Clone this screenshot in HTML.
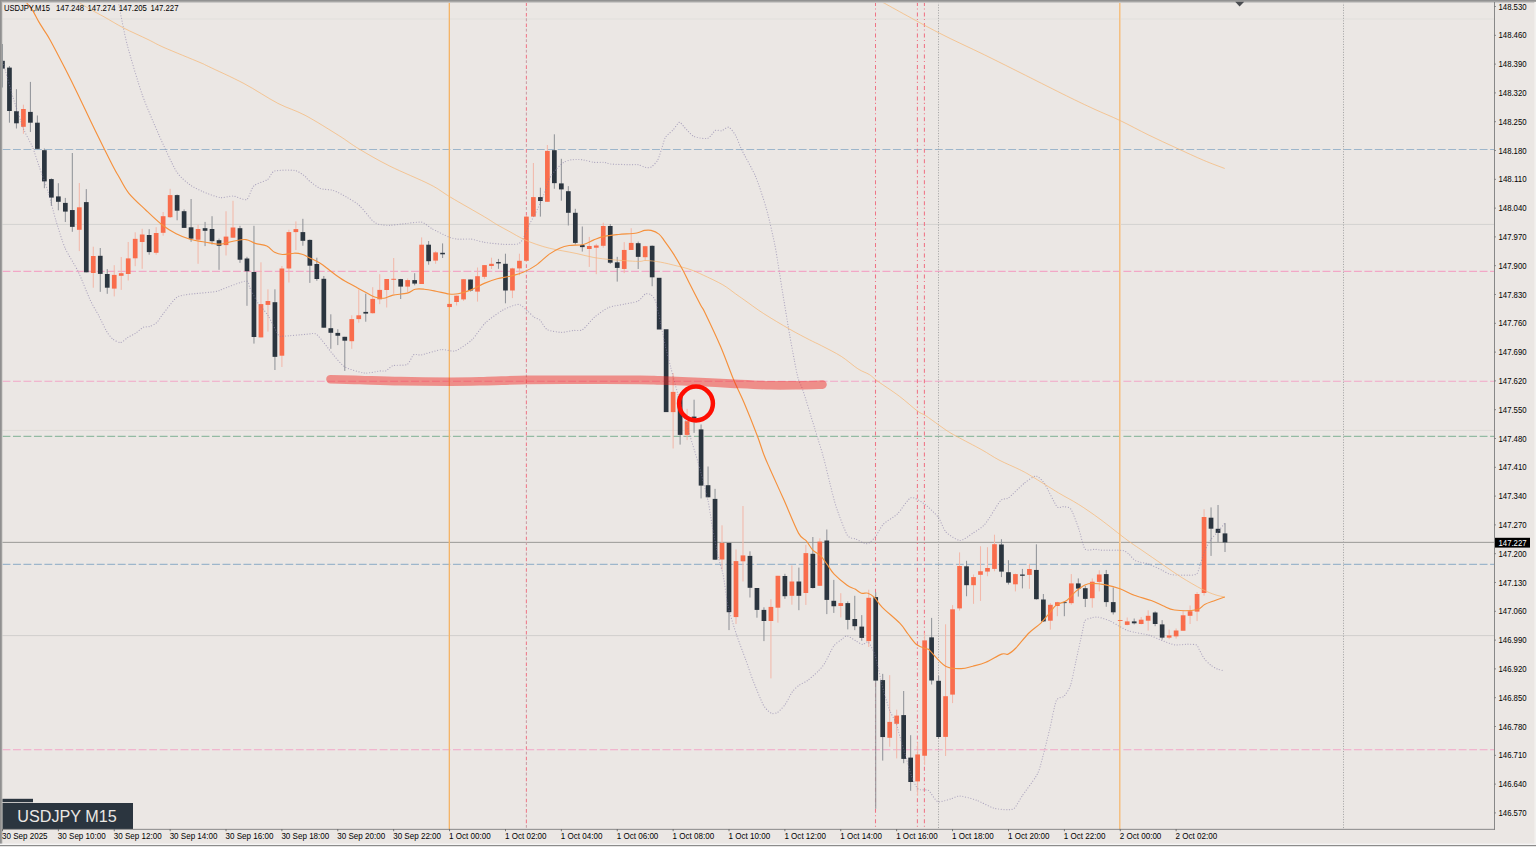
<!DOCTYPE html><html><head><meta charset="utf-8"><title>USDJPY M15</title>
<style>html,body{margin:0;padding:0;background:#ebe7e4;overflow:hidden}svg{display:block}text{font-family:"Liberation Sans",sans-serif}</style></head><body>
<svg width="1536" height="847" viewBox="0 0 1536 847">
<rect width="1536" height="847" fill="#ebe7e4"/>
<defs><clipPath id="cp"><rect x="2" y="2.6" width="1492.2" height="826.4"/></clipPath></defs>
<g clip-path="url(#cp)">
<rect x="2" y="18.50" width="1493" height="1" fill="#e1dfdb"/>
<rect x="2" y="223.90" width="1493" height="1" fill="#d3d2d0"/>
<rect x="2" y="429.90" width="1493" height="1" fill="#dedbd8"/>
<rect x="2" y="635.10" width="1493" height="1" fill="#d1cfcd"/>
<line x1="2.5" y1="149.50" x2="1494" y2="149.50" stroke="#9db6cb" stroke-width="1.10" stroke-dasharray="7.9 2.576"/>
<line x1="2.5" y1="564.35" x2="1494" y2="564.35" stroke="#9db6cb" stroke-width="1.10" stroke-dasharray="7.9 2.576"/>
<line x1="2.5" y1="436.40" x2="1494" y2="436.40" stroke="#93bba3" stroke-width="1.10" stroke-dasharray="7.9 2.576"/>
<line x1="2.5" y1="271.40" x2="1494" y2="271.40" stroke="#f2a7c6" stroke-width="1.10" stroke-dasharray="7.9 2.576"/>
<line x1="2.5" y1="381.30" x2="1494" y2="381.30" stroke="#f2a7c6" stroke-width="1.10" stroke-dasharray="7.9 2.576"/>
<line x1="2.5" y1="749.80" x2="1494" y2="749.80" stroke="#f2a7c6" stroke-width="1.10" stroke-dasharray="7.9 2.576"/>
<rect x="2" y="541.85" width="1493" height="1" fill="#9a9896"/>
<rect x="448" y="2" width="1" height="828" fill="#f4b66c" fill-opacity="0.35"/>
<rect x="449" y="2" width="1" height="828" fill="#f4b468"/>
<rect x="1119" y="2" width="1" height="828" fill="#f4c082"/>
<rect x="1120" y="2" width="1" height="828" fill="#f1d2b0"/>
<line x1="526.4" y1="2" x2="526.4" y2="829" stroke="#f07d8c" stroke-width="1.1" stroke-dasharray="3.6 6.876" stroke-dashoffset="-0.45"/>
<line x1="526.4" y1="2" x2="526.4" y2="829" stroke="#c9a3a8" stroke-width="1.1" stroke-dasharray="2.8 7.676" stroke-dashoffset="-5.85"/>
<line x1="875.50" y1="2" x2="875.50" y2="829" stroke="#ef7485" stroke-width="1.05" stroke-dasharray="4 2.4 1.1 2.976" stroke-dashoffset="-0.1"/>
<line x1="917.40" y1="2" x2="917.40" y2="829" stroke="#ef7485" stroke-width="1.05" stroke-dasharray="4 2.4 1.1 2.976" stroke-dashoffset="-0.1"/>
<line x1="924.40" y1="2" x2="924.40" y2="829" stroke="#ef7485" stroke-width="1.05" stroke-dasharray="4 2.4 1.1 2.976" stroke-dashoffset="-0.1"/>
<line x1="938.50" y1="2" x2="938.50" y2="829" stroke="#a6a6a6" stroke-width="1" stroke-dasharray="1.1 1.519"/>
<line x1="1343.50" y1="2" x2="1343.50" y2="829" stroke="#a6a6a6" stroke-width="1" stroke-dasharray="1.1 1.519"/>
<rect x="1.93" y="44.00" width="1.06" height="43.50" fill="#5a646e"/>
<rect x="0.11" y="60.80" width="4.7" height="7.80" fill="#2b353f"/>
<rect x="8.92" y="66.00" width="1.06" height="56.70" fill="#92959a"/>
<rect x="7.10" y="67.60" width="4.7" height="43.40" fill="#2b353f"/>
<rect x="15.91" y="89.20" width="1.06" height="39.30" fill="#92959a"/>
<rect x="14.09" y="111.20" width="4.7" height="12.10" fill="#2b353f"/>
<rect x="22.89" y="104.70" width="1.06" height="29.05" fill="#f2b9ab"/>
<rect x="21.07" y="109.00" width="4.7" height="17.80" fill="#f96d4c"/>
<rect x="29.88" y="81.90" width="1.06" height="50.10" fill="#92959a"/>
<rect x="28.06" y="111.90" width="4.7" height="10.80" fill="#2b353f"/>
<rect x="36.86" y="115.50" width="1.06" height="33.35" fill="#92959a"/>
<rect x="35.04" y="122.70" width="4.7" height="26.15" fill="#2b353f"/>
<rect x="43.85" y="148.50" width="1.06" height="39.70" fill="#92959a"/>
<rect x="42.03" y="150.20" width="4.7" height="31.20" fill="#2b353f"/>
<rect x="50.84" y="178.40" width="1.06" height="27.40" fill="#92959a"/>
<rect x="49.02" y="179.10" width="4.7" height="18.50" fill="#2b353f"/>
<rect x="57.82" y="183.20" width="1.06" height="27.10" fill="#92959a"/>
<rect x="56.00" y="196.40" width="4.7" height="5.40" fill="#2b353f"/>
<rect x="64.81" y="197.90" width="1.06" height="24.10" fill="#92959a"/>
<rect x="62.99" y="202.90" width="4.7" height="8.70" fill="#2b353f"/>
<rect x="71.79" y="153.00" width="1.06" height="78.80" fill="#92959a"/>
<rect x="69.97" y="210.05" width="4.7" height="16.80" fill="#2b353f"/>
<rect x="78.78" y="183.00" width="1.06" height="68.10" fill="#f2b9ab"/>
<rect x="76.96" y="207.30" width="4.7" height="22.50" fill="#f96d4c"/>
<rect x="85.77" y="189.10" width="1.06" height="83.20" fill="#92959a"/>
<rect x="83.95" y="202.10" width="4.7" height="70.20" fill="#2b353f"/>
<rect x="92.75" y="246.70" width="1.06" height="41.00" fill="#f2b9ab"/>
<rect x="90.93" y="256.00" width="4.7" height="17.00" fill="#f96d4c"/>
<rect x="99.74" y="248.00" width="1.06" height="43.85" fill="#92959a"/>
<rect x="97.92" y="255.80" width="4.7" height="18.10" fill="#2b353f"/>
<rect x="106.72" y="269.10" width="1.06" height="24.70" fill="#92959a"/>
<rect x="104.90" y="274.00" width="4.7" height="13.70" fill="#2b353f"/>
<rect x="113.71" y="265.20" width="1.06" height="31.20" fill="#f2b9ab"/>
<rect x="111.89" y="274.90" width="4.7" height="13.70" fill="#f96d4c"/>
<rect x="120.70" y="257.00" width="1.06" height="32.90" fill="#f2b9ab"/>
<rect x="118.88" y="273.20" width="4.7" height="2.60" fill="#f96d4c"/>
<rect x="127.68" y="242.00" width="1.06" height="38.50" fill="#f2b9ab"/>
<rect x="125.86" y="258.40" width="4.7" height="15.60" fill="#f96d4c"/>
<rect x="134.67" y="232.30" width="1.06" height="33.90" fill="#f2b9ab"/>
<rect x="132.85" y="238.85" width="4.7" height="19.45" fill="#f96d4c"/>
<rect x="141.65" y="228.80" width="1.06" height="40.00" fill="#f2b9ab"/>
<rect x="139.83" y="234.50" width="4.7" height="7.50" fill="#f96d4c"/>
<rect x="148.64" y="229.20" width="1.06" height="25.50" fill="#92959a"/>
<rect x="146.82" y="235.00" width="4.7" height="17.10" fill="#2b353f"/>
<rect x="155.63" y="227.20" width="1.06" height="27.50" fill="#f2b9ab"/>
<rect x="153.81" y="233.00" width="4.7" height="19.80" fill="#f96d4c"/>
<rect x="162.61" y="212.00" width="1.06" height="23.70" fill="#f2b9ab"/>
<rect x="160.79" y="216.20" width="4.7" height="16.60" fill="#f96d4c"/>
<rect x="169.60" y="188.80" width="1.06" height="29.20" fill="#f2b9ab"/>
<rect x="167.78" y="195.10" width="4.7" height="22.10" fill="#f96d4c"/>
<rect x="176.58" y="194.50" width="1.06" height="25.80" fill="#92959a"/>
<rect x="174.76" y="195.10" width="4.7" height="15.60" fill="#2b353f"/>
<rect x="183.57" y="209.40" width="1.06" height="18.60" fill="#92959a"/>
<rect x="181.75" y="211.20" width="4.7" height="16.70" fill="#2b353f"/>
<rect x="190.56" y="199.00" width="1.06" height="42.80" fill="#92959a"/>
<rect x="188.74" y="227.30" width="4.7" height="11.30" fill="#2b353f"/>
<rect x="197.54" y="224.80" width="1.06" height="39.00" fill="#f2b9ab"/>
<rect x="195.72" y="229.00" width="4.7" height="10.70" fill="#f96d4c"/>
<rect x="204.53" y="221.90" width="1.06" height="24.20" fill="#92959a"/>
<rect x="202.71" y="228.20" width="4.7" height="2.60" fill="#2b353f"/>
<rect x="211.51" y="216.20" width="1.06" height="28.30" fill="#92959a"/>
<rect x="209.69" y="229.00" width="4.7" height="12.20" fill="#2b353f"/>
<rect x="218.50" y="238.60" width="1.06" height="31.20" fill="#92959a"/>
<rect x="216.68" y="240.20" width="4.7" height="5.55" fill="#2b353f"/>
<rect x="225.49" y="211.25" width="1.06" height="44.25" fill="#f2b9ab"/>
<rect x="223.67" y="236.60" width="4.7" height="8.50" fill="#f96d4c"/>
<rect x="232.47" y="200.80" width="1.06" height="37.20" fill="#f2b9ab"/>
<rect x="230.65" y="227.50" width="4.7" height="10.20" fill="#f96d4c"/>
<rect x="239.46" y="225.80" width="1.06" height="37.10" fill="#92959a"/>
<rect x="237.64" y="228.20" width="4.7" height="31.50" fill="#2b353f"/>
<rect x="246.44" y="256.80" width="1.06" height="49.00" fill="#92959a"/>
<rect x="244.62" y="258.50" width="4.7" height="12.70" fill="#2b353f"/>
<rect x="253.43" y="225.80" width="1.06" height="117.80" fill="#92959a"/>
<rect x="251.61" y="272.00" width="4.7" height="65.00" fill="#2b353f"/>
<rect x="260.42" y="262.30" width="1.06" height="75.10" fill="#f2b9ab"/>
<rect x="258.60" y="304.10" width="4.7" height="33.30" fill="#f96d4c"/>
<rect x="267.40" y="289.30" width="1.06" height="42.30" fill="#f2b9ab"/>
<rect x="265.58" y="301.00" width="4.7" height="3.90" fill="#f96d4c"/>
<rect x="274.39" y="289.30" width="1.06" height="80.70" fill="#92959a"/>
<rect x="272.57" y="302.20" width="4.7" height="54.65" fill="#2b353f"/>
<rect x="281.37" y="266.00" width="1.06" height="101.00" fill="#f2b9ab"/>
<rect x="279.55" y="268.50" width="4.7" height="87.20" fill="#f96d4c"/>
<rect x="288.36" y="229.70" width="1.06" height="52.80" fill="#f2b9ab"/>
<rect x="286.54" y="232.10" width="4.7" height="36.40" fill="#f96d4c"/>
<rect x="295.35" y="221.40" width="1.06" height="28.65" fill="#f2b9ab"/>
<rect x="293.53" y="229.10" width="4.7" height="3.00" fill="#f96d4c"/>
<rect x="302.33" y="218.80" width="1.06" height="26.95" fill="#92959a"/>
<rect x="300.51" y="232.10" width="4.7" height="8.70" fill="#2b353f"/>
<rect x="309.32" y="239.50" width="1.06" height="43.40" fill="#92959a"/>
<rect x="307.50" y="239.90" width="4.7" height="25.80" fill="#2b353f"/>
<rect x="316.30" y="257.70" width="1.06" height="23.10" fill="#92959a"/>
<rect x="314.48" y="264.00" width="4.7" height="15.00" fill="#2b353f"/>
<rect x="323.29" y="276.00" width="1.06" height="51.70" fill="#92959a"/>
<rect x="321.47" y="278.80" width="4.7" height="48.90" fill="#2b353f"/>
<rect x="330.28" y="314.30" width="1.06" height="34.50" fill="#92959a"/>
<rect x="328.46" y="328.20" width="4.7" height="4.60" fill="#2b353f"/>
<rect x="337.26" y="329.20" width="1.06" height="15.90" fill="#92959a"/>
<rect x="335.44" y="332.90" width="4.7" height="2.85" fill="#2b353f"/>
<rect x="344.25" y="336.80" width="1.06" height="34.10" fill="#92959a"/>
<rect x="342.43" y="336.80" width="4.7" height="3.90" fill="#2b353f"/>
<rect x="351.23" y="315.30" width="1.06" height="33.50" fill="#f2b9ab"/>
<rect x="349.41" y="319.10" width="4.7" height="22.10" fill="#f96d4c"/>
<rect x="358.22" y="289.50" width="1.06" height="33.20" fill="#f2b9ab"/>
<rect x="356.40" y="315.30" width="4.7" height="3.80" fill="#f96d4c"/>
<rect x="365.21" y="293.70" width="1.06" height="28.00" fill="#92959a"/>
<rect x="363.39" y="311.90" width="4.7" height="1.70" fill="#2b353f"/>
<rect x="372.19" y="287.20" width="1.06" height="26.40" fill="#f2b9ab"/>
<rect x="370.37" y="298.90" width="4.7" height="14.30" fill="#f96d4c"/>
<rect x="379.18" y="274.20" width="1.06" height="29.90" fill="#f2b9ab"/>
<rect x="377.36" y="289.90" width="4.7" height="9.40" fill="#f96d4c"/>
<rect x="386.16" y="279.00" width="1.06" height="28.50" fill="#f2b9ab"/>
<rect x="384.34" y="279.00" width="4.7" height="11.00" fill="#f96d4c"/>
<rect x="393.15" y="258.00" width="1.06" height="35.80" fill="#f2b9ab"/>
<rect x="391.33" y="278.80" width="4.7" height="1.00" fill="#f96d4c"/>
<rect x="400.14" y="278.90" width="1.06" height="20.10" fill="#92959a"/>
<rect x="398.32" y="279.10" width="4.7" height="7.50" fill="#2b353f"/>
<rect x="407.12" y="278.50" width="1.06" height="13.60" fill="#f2b9ab"/>
<rect x="405.30" y="280.10" width="4.7" height="6.50" fill="#f96d4c"/>
<rect x="414.11" y="273.20" width="1.06" height="12.10" fill="#92959a"/>
<rect x="412.29" y="280.10" width="4.7" height="3.50" fill="#2b353f"/>
<rect x="421.09" y="237.40" width="1.06" height="46.60" fill="#f2b9ab"/>
<rect x="419.27" y="244.70" width="4.7" height="39.30" fill="#f96d4c"/>
<rect x="428.08" y="241.00" width="1.06" height="23.70" fill="#92959a"/>
<rect x="426.26" y="244.70" width="4.7" height="16.50" fill="#2b353f"/>
<rect x="435.07" y="251.20" width="1.06" height="12.60" fill="#f2b9ab"/>
<rect x="433.25" y="252.40" width="4.7" height="8.20" fill="#f96d4c"/>
<rect x="442.05" y="243.40" width="1.06" height="14.60" fill="#92959a"/>
<rect x="440.23" y="252.80" width="4.7" height="1.50" fill="#2b353f"/>
<rect x="447.22" y="303.90" width="4.7" height="3.15" fill="#f96d4c"/>
<rect x="456.02" y="295.70" width="1.06" height="9.80" fill="#f2b9ab"/>
<rect x="454.20" y="295.70" width="4.7" height="6.30" fill="#f96d4c"/>
<rect x="463.01" y="279.20" width="1.06" height="21.70" fill="#f2b9ab"/>
<rect x="461.19" y="279.20" width="4.7" height="20.20" fill="#f96d4c"/>
<rect x="470.00" y="279.50" width="1.06" height="12.00" fill="#92959a"/>
<rect x="468.18" y="279.50" width="4.7" height="11.00" fill="#2b353f"/>
<rect x="476.98" y="267.50" width="1.06" height="34.10" fill="#f2b9ab"/>
<rect x="475.16" y="276.20" width="4.7" height="15.40" fill="#f96d4c"/>
<rect x="483.97" y="265.10" width="1.06" height="13.70" fill="#f2b9ab"/>
<rect x="482.15" y="265.10" width="4.7" height="11.75" fill="#f96d4c"/>
<rect x="490.95" y="257.70" width="1.06" height="11.30" fill="#f2b9ab"/>
<rect x="489.13" y="263.80" width="4.7" height="2.20" fill="#f96d4c"/>
<rect x="497.94" y="258.90" width="1.06" height="9.90" fill="#92959a"/>
<rect x="496.12" y="262.10" width="4.7" height="1.30" fill="#2b353f"/>
<rect x="504.93" y="253.70" width="1.06" height="49.60" fill="#92959a"/>
<rect x="503.11" y="263.80" width="4.7" height="26.70" fill="#2b353f"/>
<rect x="511.91" y="267.70" width="1.06" height="30.40" fill="#f2b9ab"/>
<rect x="510.09" y="268.40" width="4.7" height="22.10" fill="#f96d4c"/>
<rect x="518.90" y="253.70" width="1.06" height="21.50" fill="#f2b9ab"/>
<rect x="517.08" y="260.80" width="4.7" height="7.60" fill="#f96d4c"/>
<rect x="525.88" y="216.00" width="1.06" height="46.00" fill="#f2b9ab"/>
<rect x="524.06" y="216.60" width="4.7" height="44.20" fill="#f96d4c"/>
<rect x="532.87" y="163.00" width="1.06" height="53.60" fill="#f2b9ab"/>
<rect x="531.05" y="197.10" width="4.7" height="19.50" fill="#f96d4c"/>
<rect x="539.86" y="187.70" width="1.06" height="28.90" fill="#92959a"/>
<rect x="538.04" y="197.10" width="4.7" height="3.90" fill="#2b353f"/>
<rect x="546.84" y="145.00" width="1.06" height="56.80" fill="#f2b9ab"/>
<rect x="545.02" y="150.90" width="4.7" height="50.90" fill="#f96d4c"/>
<rect x="553.83" y="134.30" width="1.06" height="54.45" fill="#92959a"/>
<rect x="552.01" y="150.20" width="4.7" height="32.95" fill="#2b353f"/>
<rect x="560.81" y="158.80" width="1.06" height="41.90" fill="#92959a"/>
<rect x="558.99" y="183.40" width="4.7" height="6.00" fill="#2b353f"/>
<rect x="567.80" y="186.15" width="1.06" height="39.35" fill="#92959a"/>
<rect x="565.98" y="191.20" width="4.7" height="21.60" fill="#2b353f"/>
<rect x="574.79" y="208.80" width="1.06" height="35.70" fill="#92959a"/>
<rect x="572.97" y="212.80" width="4.7" height="30.10" fill="#2b353f"/>
<rect x="581.77" y="226.50" width="1.06" height="25.10" fill="#92959a"/>
<rect x="579.95" y="245.10" width="4.7" height="2.00" fill="#2b353f"/>
<rect x="588.76" y="236.90" width="1.06" height="30.00" fill="#f2b9ab"/>
<rect x="586.94" y="246.00" width="4.7" height="3.00" fill="#f96d4c"/>
<rect x="595.74" y="243.80" width="1.06" height="30.40" fill="#f2b9ab"/>
<rect x="593.92" y="245.50" width="4.7" height="2.20" fill="#f96d4c"/>
<rect x="602.73" y="222.70" width="1.06" height="25.00" fill="#f2b9ab"/>
<rect x="600.91" y="226.00" width="4.7" height="19.80" fill="#f96d4c"/>
<rect x="609.72" y="224.00" width="1.06" height="40.00" fill="#92959a"/>
<rect x="607.90" y="226.00" width="4.7" height="36.70" fill="#2b353f"/>
<rect x="616.70" y="256.85" width="1.06" height="24.75" fill="#92959a"/>
<rect x="614.88" y="262.30" width="4.7" height="5.60" fill="#2b353f"/>
<rect x="623.69" y="242.10" width="1.06" height="31.00" fill="#f2b9ab"/>
<rect x="621.87" y="249.95" width="4.7" height="19.00" fill="#f96d4c"/>
<rect x="630.67" y="228.20" width="1.06" height="21.75" fill="#f2b9ab"/>
<rect x="628.85" y="242.90" width="4.7" height="7.05" fill="#f96d4c"/>
<rect x="637.66" y="241.60" width="1.06" height="27.40" fill="#92959a"/>
<rect x="635.84" y="243.20" width="4.7" height="13.65" fill="#2b353f"/>
<rect x="644.65" y="245.80" width="1.06" height="14.95" fill="#f2b9ab"/>
<rect x="642.83" y="246.20" width="4.7" height="11.00" fill="#f96d4c"/>
<rect x="651.63" y="245.50" width="1.06" height="40.70" fill="#92959a"/>
<rect x="649.81" y="245.80" width="4.7" height="31.50" fill="#2b353f"/>
<rect x="656.80" y="277.80" width="4.7" height="51.70" fill="#2b353f"/>
<rect x="663.78" y="329.25" width="4.7" height="82.85" fill="#2b353f"/>
<rect x="672.59" y="373.00" width="1.06" height="75.50" fill="#f2b9ab"/>
<rect x="670.77" y="391.90" width="4.7" height="20.20" fill="#f96d4c"/>
<rect x="679.58" y="394.50" width="1.06" height="50.10" fill="#92959a"/>
<rect x="677.76" y="396.50" width="4.7" height="38.40" fill="#2b353f"/>
<rect x="686.56" y="408.80" width="1.06" height="31.30" fill="#f2b9ab"/>
<rect x="684.74" y="421.20" width="4.7" height="13.70" fill="#f96d4c"/>
<rect x="693.55" y="399.70" width="1.06" height="33.20" fill="#92959a"/>
<rect x="691.73" y="416.60" width="4.7" height="2.00" fill="#2b353f"/>
<rect x="700.53" y="424.45" width="1.06" height="73.95" fill="#92959a"/>
<rect x="698.71" y="429.40" width="4.7" height="56.20" fill="#2b353f"/>
<rect x="707.52" y="466.50" width="1.06" height="30.80" fill="#92959a"/>
<rect x="705.70" y="485.20" width="4.7" height="12.10" fill="#2b353f"/>
<rect x="714.51" y="488.85" width="1.06" height="70.85" fill="#92959a"/>
<rect x="712.69" y="498.90" width="4.7" height="60.80" fill="#2b353f"/>
<rect x="721.49" y="525.30" width="1.06" height="44.20" fill="#f2b9ab"/>
<rect x="719.67" y="542.90" width="4.7" height="16.60" fill="#f96d4c"/>
<rect x="728.48" y="542.90" width="1.06" height="87.20" fill="#92959a"/>
<rect x="726.66" y="542.90" width="4.7" height="69.30" fill="#2b353f"/>
<rect x="735.46" y="549.40" width="1.06" height="74.60" fill="#f2b9ab"/>
<rect x="733.64" y="561.10" width="4.7" height="55.95" fill="#f96d4c"/>
<rect x="742.45" y="506.00" width="1.06" height="75.50" fill="#f2b9ab"/>
<rect x="740.63" y="555.40" width="4.7" height="5.90" fill="#f96d4c"/>
<rect x="749.44" y="551.30" width="1.06" height="46.20" fill="#92959a"/>
<rect x="747.62" y="555.90" width="4.7" height="31.90" fill="#2b353f"/>
<rect x="756.42" y="588.00" width="1.06" height="29.70" fill="#92959a"/>
<rect x="754.60" y="588.00" width="4.7" height="21.90" fill="#2b353f"/>
<rect x="763.41" y="607.30" width="1.06" height="33.80" fill="#92959a"/>
<rect x="761.59" y="609.90" width="4.7" height="11.10" fill="#2b353f"/>
<rect x="770.39" y="599.20" width="1.06" height="79.20" fill="#f2b9ab"/>
<rect x="768.57" y="606.90" width="4.7" height="14.10" fill="#f96d4c"/>
<rect x="777.38" y="575.80" width="1.06" height="46.85" fill="#f2b9ab"/>
<rect x="775.56" y="575.80" width="4.7" height="31.90" fill="#f96d4c"/>
<rect x="784.37" y="573.80" width="1.06" height="25.00" fill="#92959a"/>
<rect x="782.55" y="576.00" width="4.7" height="20.20" fill="#2b353f"/>
<rect x="791.35" y="565.40" width="1.06" height="39.30" fill="#f2b9ab"/>
<rect x="789.53" y="581.50" width="4.7" height="14.30" fill="#f96d4c"/>
<rect x="798.34" y="567.60" width="1.06" height="42.60" fill="#92959a"/>
<rect x="796.52" y="581.50" width="4.7" height="14.30" fill="#2b353f"/>
<rect x="805.32" y="544.80" width="1.06" height="60.15" fill="#f2b9ab"/>
<rect x="803.50" y="553.10" width="4.7" height="39.90" fill="#f96d4c"/>
<rect x="812.31" y="537.00" width="1.06" height="51.50" fill="#92959a"/>
<rect x="810.49" y="553.80" width="4.7" height="34.20" fill="#2b353f"/>
<rect x="819.30" y="538.30" width="1.06" height="47.70" fill="#f2b9ab"/>
<rect x="817.48" y="541.60" width="4.7" height="44.20" fill="#f96d4c"/>
<rect x="826.28" y="529.50" width="1.06" height="84.60" fill="#92959a"/>
<rect x="824.46" y="540.50" width="4.7" height="59.40" fill="#2b353f"/>
<rect x="833.27" y="579.90" width="1.06" height="33.00" fill="#92959a"/>
<rect x="831.45" y="600.80" width="4.7" height="5.45" fill="#2b353f"/>
<rect x="840.25" y="593.20" width="1.06" height="24.20" fill="#f2b9ab"/>
<rect x="838.43" y="603.10" width="4.7" height="2.90" fill="#f96d4c"/>
<rect x="847.24" y="601.40" width="1.06" height="28.00" fill="#92959a"/>
<rect x="845.42" y="603.10" width="4.7" height="16.80" fill="#2b353f"/>
<rect x="854.23" y="595.80" width="1.06" height="34.30" fill="#92959a"/>
<rect x="852.41" y="619.00" width="4.7" height="7.20" fill="#2b353f"/>
<rect x="861.21" y="615.10" width="1.06" height="25.65" fill="#92959a"/>
<rect x="859.39" y="626.60" width="4.7" height="11.30" fill="#2b353f"/>
<rect x="868.20" y="589.70" width="1.06" height="57.30" fill="#f2b9ab"/>
<rect x="866.38" y="597.80" width="4.7" height="43.30" fill="#f96d4c"/>
<rect x="875.18" y="592.30" width="1.06" height="216.45" fill="#92959a"/>
<rect x="873.36" y="597.10" width="4.7" height="83.50" fill="#2b353f"/>
<rect x="882.17" y="673.85" width="1.06" height="86.75" fill="#92959a"/>
<rect x="880.35" y="680.10" width="4.7" height="56.95" fill="#2b353f"/>
<rect x="889.16" y="675.15" width="1.06" height="71.55" fill="#f2b9ab"/>
<rect x="887.34" y="721.90" width="4.7" height="15.90" fill="#f96d4c"/>
<rect x="896.14" y="709.65" width="1.06" height="48.75" fill="#f2b9ab"/>
<rect x="894.32" y="715.60" width="4.7" height="8.20" fill="#f96d4c"/>
<rect x="903.13" y="691.00" width="1.06" height="72.20" fill="#92959a"/>
<rect x="901.31" y="715.10" width="4.7" height="43.80" fill="#2b353f"/>
<rect x="910.11" y="735.20" width="1.06" height="55.60" fill="#92959a"/>
<rect x="908.29" y="757.60" width="4.7" height="24.40" fill="#2b353f"/>
<rect x="917.10" y="742.30" width="1.06" height="53.40" fill="#f2b9ab"/>
<rect x="915.28" y="754.45" width="4.7" height="26.95" fill="#f96d4c"/>
<rect x="924.09" y="633.00" width="1.06" height="132.10" fill="#f2b9ab"/>
<rect x="922.27" y="640.40" width="4.7" height="115.35" fill="#f96d4c"/>
<rect x="931.07" y="617.90" width="1.06" height="66.60" fill="#92959a"/>
<rect x="929.25" y="637.35" width="4.7" height="43.15" fill="#2b353f"/>
<rect x="938.06" y="676.00" width="1.06" height="62.50" fill="#92959a"/>
<rect x="936.24" y="680.80" width="4.7" height="56.20" fill="#2b353f"/>
<rect x="945.04" y="624.30" width="1.06" height="131.70" fill="#f2b9ab"/>
<rect x="943.22" y="696.20" width="4.7" height="40.70" fill="#f96d4c"/>
<rect x="952.03" y="605.10" width="1.06" height="98.00" fill="#f2b9ab"/>
<rect x="950.21" y="609.30" width="4.7" height="85.30" fill="#f96d4c"/>
<rect x="959.02" y="552.40" width="1.06" height="58.20" fill="#f2b9ab"/>
<rect x="957.20" y="566.00" width="4.7" height="42.40" fill="#f96d4c"/>
<rect x="966.00" y="560.80" width="1.06" height="35.45" fill="#92959a"/>
<rect x="964.18" y="566.30" width="4.7" height="18.90" fill="#2b353f"/>
<rect x="972.99" y="574.50" width="1.06" height="29.30" fill="#f2b9ab"/>
<rect x="971.17" y="577.10" width="4.7" height="8.10" fill="#f96d4c"/>
<rect x="979.97" y="546.25" width="1.06" height="54.65" fill="#f2b9ab"/>
<rect x="978.15" y="571.25" width="4.7" height="3.55" fill="#f96d4c"/>
<rect x="986.96" y="547.20" width="1.06" height="29.00" fill="#f2b9ab"/>
<rect x="985.14" y="568.00" width="4.7" height="3.60" fill="#f96d4c"/>
<rect x="993.95" y="534.70" width="1.06" height="36.55" fill="#f2b9ab"/>
<rect x="992.13" y="544.20" width="4.7" height="24.70" fill="#f96d4c"/>
<rect x="1000.93" y="539.20" width="1.06" height="37.90" fill="#92959a"/>
<rect x="999.11" y="544.50" width="4.7" height="27.10" fill="#2b353f"/>
<rect x="1007.92" y="560.20" width="1.06" height="24.30" fill="#92959a"/>
<rect x="1006.10" y="572.20" width="4.7" height="10.50" fill="#2b353f"/>
<rect x="1014.90" y="573.60" width="1.06" height="17.80" fill="#f2b9ab"/>
<rect x="1013.08" y="574.10" width="4.7" height="10.20" fill="#f96d4c"/>
<rect x="1021.89" y="568.90" width="1.06" height="19.50" fill="#92959a"/>
<rect x="1020.07" y="574.50" width="4.7" height="1.30" fill="#2b353f"/>
<rect x="1028.88" y="564.10" width="1.06" height="24.70" fill="#f2b9ab"/>
<rect x="1027.06" y="569.00" width="4.7" height="5.90" fill="#f96d4c"/>
<rect x="1035.86" y="544.30" width="1.06" height="55.30" fill="#92959a"/>
<rect x="1034.04" y="569.95" width="4.7" height="29.25" fill="#2b353f"/>
<rect x="1042.85" y="594.00" width="1.06" height="28.00" fill="#92959a"/>
<rect x="1041.03" y="599.50" width="4.7" height="21.90" fill="#2b353f"/>
<rect x="1049.83" y="603.15" width="1.06" height="26.45" fill="#f2b9ab"/>
<rect x="1048.01" y="604.80" width="4.7" height="15.90" fill="#f96d4c"/>
<rect x="1056.82" y="601.80" width="1.06" height="14.40" fill="#f2b9ab"/>
<rect x="1055.00" y="602.20" width="4.7" height="3.80" fill="#f96d4c"/>
<rect x="1063.81" y="601.20" width="1.06" height="15.00" fill="#92959a"/>
<rect x="1061.99" y="602.20" width="4.7" height="0.90" fill="#2b353f"/>
<rect x="1070.79" y="574.10" width="1.06" height="30.60" fill="#f2b9ab"/>
<rect x="1068.97" y="583.40" width="4.7" height="19.75" fill="#f96d4c"/>
<rect x="1077.78" y="578.40" width="1.06" height="18.20" fill="#92959a"/>
<rect x="1075.96" y="583.40" width="4.7" height="5.20" fill="#2b353f"/>
<rect x="1084.76" y="585.80" width="1.06" height="21.25" fill="#92959a"/>
<rect x="1082.94" y="588.20" width="4.7" height="10.65" fill="#2b353f"/>
<rect x="1091.75" y="578.40" width="1.06" height="29.30" fill="#f2b9ab"/>
<rect x="1089.93" y="581.70" width="4.7" height="16.50" fill="#f96d4c"/>
<rect x="1098.74" y="570.20" width="1.06" height="21.20" fill="#f2b9ab"/>
<rect x="1096.92" y="574.50" width="4.7" height="7.40" fill="#f96d4c"/>
<rect x="1105.72" y="569.95" width="1.06" height="36.85" fill="#92959a"/>
<rect x="1103.90" y="574.10" width="4.7" height="28.00" fill="#2b353f"/>
<rect x="1112.71" y="587.50" width="1.06" height="27.00" fill="#92959a"/>
<rect x="1110.89" y="602.10" width="4.7" height="10.20" fill="#2b353f"/>
<rect x="1117.87" y="620.10" width="4.7" height="0.90" fill="#f96d4c"/>
<rect x="1126.68" y="617.50" width="1.06" height="7.80" fill="#f2b9ab"/>
<rect x="1124.86" y="621.40" width="4.7" height="3.50" fill="#f96d4c"/>
<rect x="1133.67" y="618.50" width="1.06" height="5.90" fill="#92959a"/>
<rect x="1131.85" y="621.40" width="4.7" height="1.90" fill="#2b353f"/>
<rect x="1140.65" y="617.10" width="1.06" height="7.30" fill="#f2b9ab"/>
<rect x="1138.83" y="619.70" width="4.7" height="4.30" fill="#f96d4c"/>
<rect x="1147.64" y="610.30" width="1.06" height="20.20" fill="#f2b9ab"/>
<rect x="1145.82" y="615.80" width="4.7" height="4.90" fill="#f96d4c"/>
<rect x="1154.62" y="611.35" width="1.06" height="14.85" fill="#92959a"/>
<rect x="1152.80" y="612.50" width="4.7" height="11.50" fill="#2b353f"/>
<rect x="1161.61" y="620.10" width="1.06" height="19.50" fill="#92959a"/>
<rect x="1159.79" y="624.40" width="4.7" height="13.25" fill="#2b353f"/>
<rect x="1168.60" y="629.60" width="1.06" height="9.60" fill="#f2b9ab"/>
<rect x="1166.78" y="635.40" width="4.7" height="2.25" fill="#f96d4c"/>
<rect x="1175.58" y="628.50" width="1.06" height="10.10" fill="#f2b9ab"/>
<rect x="1173.76" y="630.50" width="4.7" height="5.85" fill="#f96d4c"/>
<rect x="1182.57" y="611.00" width="1.06" height="19.75" fill="#f2b9ab"/>
<rect x="1180.75" y="615.30" width="4.7" height="15.45" fill="#f96d4c"/>
<rect x="1189.55" y="605.50" width="1.06" height="18.50" fill="#f2b9ab"/>
<rect x="1187.73" y="611.20" width="4.7" height="4.60" fill="#f96d4c"/>
<rect x="1196.54" y="592.10" width="1.06" height="29.00" fill="#f2b9ab"/>
<rect x="1194.72" y="594.00" width="4.7" height="17.60" fill="#f96d4c"/>
<rect x="1203.53" y="509.20" width="1.06" height="86.40" fill="#f2b9ab"/>
<rect x="1201.71" y="517.00" width="4.7" height="76.00" fill="#f96d4c"/>
<rect x="1210.51" y="507.40" width="1.06" height="48.50" fill="#92959a"/>
<rect x="1208.69" y="517.70" width="4.7" height="11.00" fill="#2b353f"/>
<rect x="1217.50" y="505.00" width="1.06" height="37.20" fill="#92959a"/>
<rect x="1215.68" y="528.80" width="4.7" height="4.10" fill="#2b353f"/>
<rect x="1224.48" y="523.10" width="1.06" height="28.90" fill="#92959a"/>
<rect x="1222.66" y="533.40" width="4.7" height="9.00" fill="#2b353f"/>
<path d="M118.00 1.00 C118.07 1.28 117.55 -1.62 118.60 3.40 C119.65 8.42 124.23 33.33 127.00 44.00 C129.77 54.67 138.54 84.17 142.30 94.85 C146.06 105.52 155.25 126.60 159.20 135.50 C163.15 144.40 172.64 165.37 176.20 171.10 C179.76 176.83 186.57 182.20 189.70 184.60 C192.83 187.00 199.47 190.18 203.00 191.70 C206.53 193.22 216.50 197.10 220.00 197.60 C223.50 198.10 229.90 195.78 233.00 196.00 C236.10 196.22 244.17 200.68 246.60 199.50 C249.03 198.32 251.35 188.23 253.80 185.90 C256.25 183.57 265.20 181.23 267.60 179.50 C270.00 177.77 271.24 172.16 274.40 171.10 C277.56 170.04 291.14 169.81 294.70 170.40 C298.26 171.00 303.22 175.00 304.90 176.20 C306.58 177.40 307.31 179.22 309.10 180.65 C310.89 182.09 317.39 187.36 320.20 188.50 C323.01 189.64 330.16 189.42 333.20 190.40 C336.24 191.38 343.20 195.15 346.25 196.90 C349.30 198.65 356.26 202.66 359.30 205.40 C362.34 208.14 370.03 218.19 372.30 220.40 C374.57 222.61 376.74 223.73 378.80 224.30 C380.87 224.87 386.83 225.39 390.00 225.30 C393.17 225.21 402.30 223.86 406.00 223.50 C409.70 223.14 418.67 221.59 421.70 222.20 C424.73 222.81 428.81 226.96 432.00 228.70 C435.19 230.44 445.95 235.89 449.00 237.10 C452.05 238.31 455.52 238.87 458.10 239.10 C460.68 239.33 468.06 238.73 471.10 239.10 C474.15 239.47 480.40 241.69 484.20 242.30 C488.00 242.91 499.76 244.11 503.70 244.30 C507.64 244.49 515.73 244.59 518.00 243.90 C520.27 243.21 521.86 240.70 523.20 238.40 C524.54 236.10 528.10 227.08 529.50 224.20 C530.90 221.32 533.62 216.95 535.20 213.75 C536.78 210.55 541.33 200.90 543.00 196.80 C544.67 192.70 547.98 181.78 549.50 178.60 C551.02 175.41 554.33 171.40 556.00 169.50 C557.67 167.60 561.98 163.44 563.80 162.30 C565.62 161.16 569.48 160.00 571.60 159.70 C573.72 159.40 579.42 159.40 582.00 159.70 C584.58 160.00 591.16 162.00 593.75 162.30 C596.34 162.60 602.22 162.10 604.20 162.30 C606.18 162.50 607.67 163.72 610.70 164.00 C613.73 164.28 627.02 164.62 630.20 164.70 C633.38 164.78 636.18 164.37 638.00 164.70 C639.82 165.03 644.28 167.22 645.80 167.50 C647.32 167.78 649.63 167.93 651.00 167.10 C652.37 166.27 656.32 162.48 657.55 160.40 C658.77 158.32 660.58 151.98 661.50 149.30 C662.42 146.62 664.03 139.68 665.40 137.40 C666.76 135.12 671.57 131.56 673.20 129.80 C674.83 128.04 678.03 122.53 679.40 122.30 C680.76 122.07 683.20 126.14 684.90 127.80 C686.60 129.46 691.33 135.28 694.00 136.50 C696.67 137.72 705.31 139.01 707.80 138.30 C710.28 137.59 713.69 131.28 715.30 130.40 C716.91 129.53 720.04 131.17 721.60 130.80 C723.16 130.43 727.03 126.70 728.65 127.20 C730.27 127.70 733.92 132.45 735.45 135.10 C736.98 137.75 739.45 145.12 741.80 149.95 C744.15 154.78 752.74 169.68 755.60 176.50 C758.46 183.32 764.06 200.47 766.30 208.40 C768.54 216.33 773.24 236.85 774.80 244.50 C776.36 252.15 778.72 267.99 779.70 274.00 C780.68 280.01 782.03 288.87 783.20 296.00 C784.37 303.13 788.41 327.63 789.70 335.10 C791.00 342.57 793.31 354.91 794.30 360.00 C795.29 365.09 797.21 375.21 798.20 378.70 C799.19 382.19 800.90 384.18 802.80 389.90 C804.70 395.62 812.12 419.95 814.50 427.70 C816.88 435.45 821.43 449.93 823.20 456.30 C824.97 462.67 828.18 476.37 829.70 482.30 C831.22 488.23 834.20 500.94 836.25 507.10 C838.30 513.26 845.02 531.38 847.30 535.10 C849.58 538.82 853.75 538.02 855.80 539.00 C857.85 539.98 863.31 543.06 864.90 543.50 C866.49 543.94 868.15 543.60 869.40 542.80 C870.65 542.00 873.97 538.78 875.60 536.60 C877.23 534.42 880.85 526.75 883.40 524.10 C885.95 521.45 894.30 516.97 897.50 513.90 C900.70 510.83 907.70 498.98 910.80 497.80 C913.90 496.62 920.91 501.51 924.10 503.75 C927.29 505.99 935.56 513.72 938.10 517.00 C940.64 520.28 943.35 529.16 945.90 531.90 C948.45 534.64 956.90 540.33 960.00 540.50 C963.10 540.67 969.58 535.31 972.50 533.40 C975.42 531.49 981.72 527.93 985.00 524.10 C988.28 520.27 997.87 503.65 1000.60 500.60 C1003.33 497.56 1005.66 500.01 1008.40 498.00 C1011.14 495.99 1020.90 485.95 1024.10 483.40 C1027.30 480.84 1033.43 476.10 1035.80 476.10 C1038.17 476.10 1041.94 479.84 1044.40 483.40 C1046.86 486.96 1054.72 503.89 1056.90 506.60 C1059.08 509.31 1061.47 506.30 1063.10 506.60 C1064.73 506.90 1069.07 506.62 1070.90 509.20 C1072.73 511.78 1077.11 524.11 1078.75 528.75 C1080.39 533.39 1083.07 546.60 1085.00 549.00 C1086.93 551.40 1093.20 549.16 1095.30 549.30 C1097.40 549.44 1099.82 550.07 1103.00 550.20 C1106.18 550.33 1119.50 549.92 1122.55 550.40 C1125.60 550.88 1127.58 553.09 1129.10 554.30 C1130.62 555.51 1133.32 559.66 1135.60 560.80 C1137.88 561.94 1145.57 563.03 1148.60 564.10 C1151.63 565.17 1159.02 568.74 1161.60 569.95 C1164.18 571.16 1167.65 573.89 1170.70 574.50 C1173.75 575.11 1184.65 575.28 1187.70 575.20 C1190.75 575.12 1195.30 575.27 1196.80 573.85 C1198.30 572.43 1199.67 565.67 1200.60 563.00 C1201.53 560.33 1203.62 553.71 1204.80 551.00 C1205.98 548.29 1209.21 542.03 1210.70 539.80 C1212.19 537.57 1215.99 533.79 1217.60 531.90 C1219.21 530.01 1223.69 524.57 1224.50 523.60" fill="none" stroke="#857ba6" stroke-opacity="0.6" stroke-width="1.2" stroke-linecap="round" stroke-dasharray="0.01 2.7"/>
<path d="M3.00 62.00 C3.26 62.93 4.03 65.88 5.20 70.00 C6.37 74.12 10.88 90.47 13.00 97.30 C15.12 104.12 21.12 122.70 23.40 128.50 C25.67 134.30 30.68 142.62 32.50 147.00 C34.32 151.38 37.17 160.74 39.00 166.00 C40.83 171.26 46.22 185.72 48.20 192.10 C50.18 198.48 54.03 214.17 56.00 220.70 C57.97 227.23 62.52 242.19 65.10 248.10 C67.68 254.01 75.17 265.34 78.10 271.40 C81.03 277.45 87.79 294.84 90.20 300.00 C92.61 305.16 96.84 311.95 98.75 315.60 C100.66 319.25 104.96 328.51 106.60 331.25 C108.24 333.99 111.17 337.78 112.80 339.10 C114.43 340.42 118.86 342.79 120.60 342.60 C122.34 342.41 125.87 338.64 127.70 337.50 C129.53 336.36 134.43 334.00 136.25 332.80 C138.07 331.60 141.75 327.92 143.30 327.20 C144.85 326.48 147.95 327.12 149.50 326.60 C151.05 326.08 155.05 324.16 156.60 322.70 C158.15 321.24 160.89 316.61 162.80 314.10 C164.71 311.59 171.18 303.26 173.00 301.20 C174.82 299.13 176.42 297.23 178.40 296.40 C180.38 295.57 185.61 294.67 190.00 294.10 C194.39 293.53 212.20 292.08 216.00 291.50 C219.80 290.92 219.05 290.33 222.55 289.10 C226.05 287.88 242.81 281.13 246.00 281.00 C249.19 280.87 248.53 285.48 249.90 288.00 C251.27 290.52 255.58 299.38 257.70 302.60 C259.82 305.82 265.67 311.81 268.10 315.60 C270.53 319.39 276.67 332.71 278.50 335.10 C280.33 337.49 280.40 336.21 283.75 336.10 C287.10 336.00 303.32 334.36 307.20 334.20 C311.08 334.04 313.97 332.32 317.00 334.70 C320.03 337.08 329.93 350.83 333.20 354.60 C336.47 358.37 341.35 364.85 345.00 367.00 C348.65 369.15 360.42 372.55 364.50 373.00 C368.58 373.45 377.50 371.14 380.00 370.90 C382.50 370.65 384.38 371.52 385.90 370.90 C387.42 370.28 390.51 366.36 393.00 365.60 C395.49 364.84 404.80 365.67 407.20 364.40 C409.60 363.13 411.96 355.81 413.60 354.70 C415.25 353.59 418.06 355.49 421.30 354.90 C424.54 354.31 437.40 350.08 441.40 349.60 C445.40 349.12 452.02 351.97 455.60 350.80 C459.18 349.63 468.66 342.83 472.10 339.60 C475.54 336.37 481.52 326.54 485.10 323.10 C488.68 319.66 498.90 312.28 502.80 310.10 C506.70 307.92 515.66 304.33 518.50 304.40 C521.34 304.47 525.32 309.21 527.15 310.70 C528.98 312.19 532.69 316.09 534.20 317.20 C535.71 318.31 538.58 318.75 540.10 320.20 C541.62 321.65 544.72 328.19 547.20 329.60 C549.69 331.01 558.37 332.20 561.40 332.30 C564.43 332.40 570.73 330.76 573.20 330.45 C575.67 330.13 580.12 331.15 582.60 329.60 C585.08 328.05 591.42 319.78 594.45 317.20 C597.48 314.62 605.15 309.02 608.60 307.50 C612.05 305.98 620.56 304.95 624.00 304.20 C627.44 303.45 635.63 302.24 638.10 301.05 C640.57 299.86 643.68 294.73 645.20 294.00 C646.72 293.27 649.86 293.88 651.10 294.80 C652.34 295.72 654.74 298.60 655.85 301.90 C656.96 305.20 659.50 318.00 660.60 323.10 C661.70 328.20 664.13 340.50 665.30 345.60 C666.47 350.70 669.14 361.17 670.60 366.80 C672.06 372.43 675.59 385.99 677.80 393.85 C680.00 401.71 687.07 425.99 689.50 434.20 C691.93 442.41 696.44 456.45 698.60 464.20 C700.76 471.95 706.37 493.17 708.00 500.60 C709.63 508.03 711.36 521.38 712.55 527.90 C713.74 534.42 716.93 550.89 718.20 556.50 C719.47 562.11 722.26 570.23 723.40 576.00 C724.54 581.77 726.47 599.16 728.00 606.00 C729.53 612.84 734.45 628.37 736.50 634.60 C738.55 640.83 743.68 654.06 745.60 659.40 C747.52 664.74 750.92 675.07 753.00 680.40 C755.08 685.73 761.27 701.27 763.40 705.10 C765.53 708.93 769.57 712.36 771.25 713.20 C772.93 714.04 776.13 713.40 777.80 712.30 C779.47 711.20 783.93 706.16 785.60 703.80 C787.27 701.44 790.58 694.22 792.10 692.10 C793.62 689.98 796.78 686.97 798.60 685.60 C800.42 684.24 805.43 682.07 807.70 680.40 C809.98 678.73 816.13 673.23 818.10 671.25 C820.07 669.27 822.77 666.35 824.60 663.40 C826.43 660.45 831.77 648.79 833.75 646.00 C835.73 643.21 840.04 640.68 841.60 639.50 C843.16 638.32 845.39 635.71 847.10 635.90 C848.81 636.09 854.44 640.10 856.25 641.10 C858.06 642.10 861.17 644.37 862.60 644.50 C864.03 644.63 867.01 640.80 868.50 642.20 C869.99 643.60 873.68 650.98 875.40 656.50 C877.12 662.02 881.53 683.22 883.20 689.50 C884.87 695.78 888.18 706.36 889.70 710.30 C891.22 714.24 895.21 720.78 896.25 723.30 C897.29 725.82 897.57 728.31 898.60 731.90 C899.63 735.49 903.58 748.93 905.10 754.10 C906.62 759.27 910.08 772.13 911.60 776.20 C913.12 780.27 916.13 787.33 918.10 789.00 C920.07 790.67 926.21 789.03 928.50 790.50 C930.79 791.97 935.11 800.61 937.70 801.60 C940.29 802.59 948.12 799.65 950.70 799.00 C953.28 798.35 956.77 795.85 959.80 796.00 C962.83 796.15 972.75 798.89 976.70 800.30 C980.65 801.71 990.00 807.00 993.65 808.10 C997.30 809.20 1005.57 809.70 1008.00 809.70 C1010.43 809.70 1012.83 809.73 1014.50 808.10 C1016.17 806.47 1019.87 799.27 1022.30 795.70 C1024.73 792.13 1033.23 780.84 1035.30 777.50 C1037.37 774.16 1038.32 772.71 1040.00 767.10 C1041.68 761.49 1047.80 737.15 1049.70 729.40 C1051.60 721.65 1054.57 704.57 1056.25 700.70 C1057.93 696.83 1062.43 698.02 1064.10 696.20 C1065.77 694.38 1069.23 689.12 1070.60 685.10 C1071.96 681.08 1074.43 667.90 1075.80 661.70 C1077.16 655.50 1081.24 636.78 1082.30 632.00 C1083.36 627.22 1083.84 622.35 1084.90 620.70 C1085.96 619.06 1089.90 618.32 1091.40 617.90 C1092.90 617.48 1095.69 616.77 1097.80 617.10 C1099.91 617.43 1106.92 619.59 1109.50 620.70 C1112.08 621.81 1117.66 625.39 1119.95 626.60 C1122.24 627.81 1125.76 630.11 1129.10 631.10 C1132.44 632.09 1144.81 633.98 1148.60 635.05 C1152.39 636.12 1158.57 639.16 1161.60 640.30 C1164.63 641.44 1171.55 644.34 1174.60 644.80 C1177.64 645.25 1185.14 644.18 1187.70 644.20 C1190.26 644.22 1195.16 644.38 1196.50 645.00 C1197.84 645.62 1198.30 647.91 1199.20 649.50 C1200.10 651.09 1202.86 656.78 1204.20 658.60 C1205.54 660.42 1209.18 663.89 1210.70 665.10 C1212.22 666.31 1215.61 668.31 1217.20 669.00 C1218.79 669.69 1223.52 670.77 1224.35 671.00" fill="none" stroke="#857ba6" stroke-opacity="0.6" stroke-width="1.2" stroke-linecap="round" stroke-dasharray="0.01 2.7"/>
<path d="M76.00 0.80 C76.35 1.00 75.58 0.50 78.10 2.00 C80.62 3.50 86.75 7.32 91.10 9.80 C95.45 12.28 98.77 13.87 104.20 16.90 C109.63 19.93 116.40 24.23 123.70 28.00 C131.00 31.77 141.28 36.25 148.00 39.50 C154.72 42.75 155.33 43.67 164.00 47.50 C172.67 51.33 192.62 59.35 200.00 62.50 C207.38 65.65 200.98 62.90 208.30 66.40 C215.62 69.90 232.32 77.35 243.90 83.50 C255.48 89.65 267.63 98.02 277.80 103.30 C287.97 108.58 294.74 109.83 304.90 115.20 C315.06 120.57 329.72 129.87 338.75 135.50 C347.78 141.13 350.62 143.92 359.10 149.00 C367.58 154.08 377.75 160.07 389.60 166.00 C401.45 171.93 420.05 179.40 430.20 184.60 C440.35 189.80 441.47 191.83 450.50 197.20 C459.53 202.57 476.62 212.20 484.40 216.80 C492.18 221.40 492.90 222.28 497.20 224.80 C501.50 227.32 505.87 229.52 510.20 231.90 C514.53 234.28 518.86 237.03 523.20 239.10 C527.54 241.17 531.90 242.78 536.25 244.30 C540.60 245.82 544.96 247.12 549.30 248.20 C553.64 249.28 557.70 249.90 562.30 250.80 C566.90 251.70 571.64 252.48 576.90 253.60 C582.16 254.72 587.98 256.48 593.85 257.50 C599.72 258.52 604.73 259.05 612.10 259.70 C619.48 260.35 632.47 261.27 638.10 261.40 C643.73 261.53 642.20 260.38 645.90 260.50 C649.60 260.62 655.08 261.18 660.30 262.10 C665.52 263.02 672.22 264.77 677.20 266.00 C682.18 267.23 685.87 267.98 690.20 269.50 C694.53 271.02 697.77 272.55 703.20 275.10 C708.63 277.65 717.37 281.65 722.80 284.80 C728.23 287.95 732.23 291.48 735.80 294.00 C739.37 296.52 739.55 296.63 744.20 299.90 C748.85 303.17 756.12 308.72 763.70 313.60 C771.28 318.48 782.10 324.85 789.70 329.20 C797.30 333.55 804.00 336.95 809.30 339.70 C814.60 342.45 816.17 342.92 821.50 345.70 C826.83 348.48 835.24 352.55 841.30 356.40 C847.36 360.25 853.17 365.77 857.85 368.80 C862.53 371.83 866.09 372.53 869.40 374.60 C872.71 376.67 872.73 377.62 877.70 381.20 C882.67 384.78 892.58 391.13 899.20 396.10 C905.82 401.07 913.00 407.75 917.40 411.00 C921.80 414.25 922.03 413.27 925.60 415.60 C929.17 417.93 935.22 422.47 938.80 425.00 C942.38 427.53 944.07 428.87 947.10 430.80 C950.13 432.73 951.22 433.43 957.00 436.60 C962.78 439.77 974.80 445.90 981.80 449.80 C988.80 453.70 992.67 456.68 999.00 460.00 C1005.33 463.32 1014.32 466.97 1019.80 469.70 C1025.28 472.43 1025.47 472.55 1031.90 476.40 C1038.33 480.25 1050.59 488.12 1058.40 492.80 C1066.21 497.48 1071.82 500.12 1078.75 504.50 C1085.68 508.88 1091.94 513.18 1100.00 519.10 C1108.06 525.02 1120.08 534.78 1127.10 540.00 C1134.12 545.22 1136.13 546.28 1142.10 550.40 C1148.07 554.52 1156.40 560.25 1162.90 564.70 C1169.40 569.15 1174.58 573.02 1181.10 577.10 C1187.62 581.18 1196.35 586.27 1202.00 589.20 C1207.65 592.13 1211.20 593.40 1215.00 594.70 C1218.80 596.00 1223.17 596.62 1224.80 597.00" fill="none" stroke="#f6b673" stroke-width="0.72" stroke-linejoin="round"/>
<path d="M882.50 2.20 C891.72 7.22 920.82 23.53 937.80 32.30 C954.78 41.07 969.78 47.63 984.40 54.80 C999.02 61.97 1011.80 68.45 1025.50 75.30 C1039.20 82.15 1055.18 90.28 1066.60 95.90 C1078.02 101.52 1085.10 104.90 1094.00 109.00 C1102.90 113.10 1110.87 116.15 1120.00 120.50 C1129.13 124.85 1139.43 130.53 1148.80 135.10 C1158.17 139.67 1167.07 143.70 1176.20 147.90 C1185.33 152.10 1195.52 156.87 1203.60 160.30 C1211.68 163.73 1221.18 167.13 1224.70 168.50" fill="none" stroke="#f6b673" stroke-width="0.72" stroke-linejoin="round"/>
<path d="M26.00 2.00 C27.09 3.40 30.38 7.05 32.55 10.40 C34.72 13.75 37.04 18.73 39.00 22.10 C40.96 25.47 42.45 27.62 44.30 30.60 C46.15 33.58 46.63 33.67 50.10 40.00 C53.57 46.33 60.43 59.48 65.10 68.60 C69.77 77.72 73.77 85.80 78.10 94.70 C82.43 103.60 86.75 113.00 91.10 122.00 C95.45 131.00 100.28 140.82 104.20 148.70 C108.12 156.58 112.20 164.72 114.60 169.30 C117.00 173.88 116.25 172.23 118.60 176.20 C120.95 180.17 124.18 187.47 128.70 193.10 C133.22 198.73 140.05 204.63 145.70 210.00 C151.35 215.37 157.52 221.35 162.60 225.30 C167.68 229.25 171.63 231.38 176.20 233.70 C180.77 236.02 185.10 237.78 190.00 239.20 C194.90 240.62 200.60 241.38 205.60 242.20 C210.60 243.02 215.43 244.27 220.00 244.10 C224.57 243.93 228.67 241.95 233.00 241.20 C237.33 240.45 242.32 239.23 246.00 239.60 C249.68 239.97 251.63 242.32 255.10 243.40 C258.57 244.48 263.55 244.62 266.80 246.10 C270.05 247.58 272.00 250.90 274.60 252.30 C277.20 253.70 279.13 254.35 282.40 254.50 C285.67 254.65 290.93 253.25 294.20 253.20 C297.47 253.15 299.40 253.42 302.00 254.20 C304.60 254.98 306.77 256.38 309.80 257.90 C312.83 259.42 316.95 261.28 320.20 263.30 C323.45 265.32 326.05 267.58 329.30 270.00 C332.55 272.42 336.88 275.83 339.70 277.80 C342.52 279.77 343.20 280.07 346.25 281.80 C349.30 283.53 353.66 285.83 358.00 288.20 C362.34 290.57 368.83 294.37 372.30 296.00 C375.77 297.63 376.63 297.67 378.80 298.00 C380.97 298.33 382.93 298.48 385.30 298.00 C387.67 297.52 389.33 295.92 393.00 295.10 C396.67 294.28 403.60 294.08 407.30 293.10 C411.00 292.12 412.37 289.85 415.20 289.20 C418.03 288.55 420.83 288.87 424.30 289.20 C427.77 289.53 431.88 290.40 436.00 291.20 C440.12 292.00 445.32 293.57 449.00 294.00 C452.68 294.43 454.42 294.48 458.10 293.80 C461.78 293.12 466.75 291.63 471.10 289.90 C475.45 288.17 479.85 285.25 484.20 283.40 C488.55 281.55 492.87 280.00 497.20 278.80 C501.53 277.60 505.87 277.28 510.20 276.20 C514.53 275.12 518.86 274.15 523.20 272.30 C527.54 270.45 531.90 268.13 536.25 265.10 C540.60 262.07 545.39 256.92 549.30 254.10 C553.21 251.28 556.40 249.63 559.70 248.20 C563.00 246.77 565.15 246.12 569.10 245.50 C573.05 244.88 579.27 245.43 583.40 244.50 C587.52 243.57 590.37 241.25 593.85 239.90 C597.33 238.55 600.17 237.30 604.30 236.40 C608.42 235.50 613.18 235.07 618.60 234.50 C624.02 233.93 632.47 233.68 636.80 233.00 C641.13 232.32 642.22 230.83 644.60 230.40 C646.98 229.97 648.70 229.78 651.10 230.40 C653.50 231.02 656.82 232.40 659.00 234.10 C661.18 235.80 661.82 237.35 664.20 240.60 C666.58 243.85 670.27 248.83 673.30 253.60 C676.33 258.37 679.58 264.00 682.40 269.20 C685.22 274.40 687.17 278.83 690.20 284.80 C693.23 290.77 698.12 300.30 700.60 305.00 C703.08 309.70 701.75 306.03 705.10 313.00 C708.45 319.97 715.93 335.63 720.70 346.80 C725.48 357.97 729.83 370.63 733.75 380.00 C737.67 389.37 740.29 393.75 744.20 403.00 C748.11 412.25 753.90 426.83 757.20 435.50 C760.50 444.17 761.83 449.35 764.00 455.00 C766.17 460.65 766.83 461.80 770.20 469.40 C773.57 477.00 779.48 489.98 784.20 500.60 C788.92 511.22 794.82 526.38 798.50 533.10 C802.18 539.82 803.92 538.08 806.30 540.90 C808.68 543.72 810.42 547.55 812.80 550.05 C815.18 552.55 818.22 553.51 820.60 555.90 C822.98 558.29 824.85 561.37 827.10 564.40 C829.35 567.43 830.77 570.63 834.10 574.10 C837.43 577.57 843.62 582.70 847.10 585.20 C850.58 587.70 852.60 587.77 855.00 589.10 C857.40 590.43 859.33 592.52 861.50 593.20 C863.67 593.88 865.83 592.48 868.00 593.20 C870.17 593.92 872.12 595.15 874.50 597.50 C876.88 599.85 878.05 602.98 882.30 607.30 C886.55 611.62 895.75 618.99 900.00 623.40 C904.25 627.81 904.98 630.18 907.80 633.75 C910.62 637.32 913.62 642.24 916.90 644.80 C920.18 647.36 925.33 648.13 927.50 649.10 C929.67 650.07 926.88 647.75 929.90 650.60 C932.92 653.45 940.38 663.20 945.60 666.20 C950.82 669.20 956.65 668.60 961.20 668.60 C965.75 668.60 968.78 667.25 972.90 666.20 C977.02 665.15 981.12 664.32 985.90 662.30 C990.68 660.28 997.90 655.47 1001.60 654.10 C1005.30 652.73 1005.72 655.12 1008.10 654.10 C1010.48 653.08 1012.43 651.52 1015.90 648.00 C1019.37 644.48 1024.78 637.12 1028.90 633.00 C1033.02 628.88 1037.13 626.65 1040.60 623.30 C1044.07 619.95 1047.09 615.93 1049.70 612.90 C1052.31 609.87 1053.42 607.17 1056.25 605.10 C1059.08 603.03 1063.44 602.78 1066.70 600.50 C1069.96 598.22 1072.77 594.00 1075.80 591.40 C1078.83 588.80 1082.08 586.23 1084.90 584.90 C1087.72 583.57 1089.25 583.40 1092.70 583.40 C1096.15 583.40 1101.06 584.00 1105.60 584.90 C1110.14 585.80 1115.17 587.07 1119.95 588.80 C1124.73 590.53 1129.09 593.35 1134.30 595.30 C1139.51 597.25 1146.43 598.76 1151.20 600.50 C1155.97 602.24 1159.00 604.16 1162.90 605.75 C1166.80 607.34 1168.95 609.39 1174.60 610.05 C1180.25 610.71 1191.80 610.63 1196.80 609.70 C1201.80 608.77 1201.57 605.98 1204.60 604.45 C1207.63 602.92 1211.63 601.74 1215.00 600.50 C1218.37 599.26 1223.17 597.58 1224.80 597.00" fill="none" stroke="#f5913d" stroke-width="1.15" stroke-linejoin="round"/>
<path d="M330.50 379.20 C335.42 379.33 348.42 379.68 360.00 380.00 C371.58 380.32 385.00 380.82 400.00 381.10 C415.00 381.38 436.00 381.68 450.00 381.70 C464.00 381.72 471.17 381.50 484.00 381.20 C496.83 380.90 511.83 380.15 527.00 379.90 C542.17 379.65 556.17 379.70 575.00 379.70 C593.83 379.70 625.83 379.78 640.00 379.90 C654.17 380.02 650.00 380.05 660.00 380.40 C670.00 380.75 688.17 381.47 700.00 382.00 C711.83 382.53 719.33 383.05 731.00 383.60 C742.67 384.15 758.50 385.03 770.00 385.30 C781.50 385.57 791.25 385.32 800.00 385.20 C808.75 385.08 818.75 384.70 822.50 384.60" fill="none" stroke="#f1261e" stroke-opacity="0.46" stroke-width="8.6" stroke-linecap="round" stroke-linejoin="round"/>
<circle cx="696" cy="403.5" r="16.9" fill="none" stroke="#fe0e02" stroke-width="4.5"/>
<rect x="2" y="798.8" width="31" height="3.4" fill="#2b353f"/>
<rect x="2" y="803" width="131" height="26.5" fill="#2b353f"/>
<text x="17.3" y="822.3" font-size="16px" fill="#ece8e4" textLength="99.4" lengthAdjust="spacingAndGlyphs">USDJPY M15</text>
</g>
<text x="3.90" y="11.40" font-size="8.6px" fill="#000" textLength="46.00" lengthAdjust="spacingAndGlyphs">USDJPY,M15</text>
<text x="56.00" y="11.40" font-size="8.6px" fill="#000" textLength="28.10" lengthAdjust="spacingAndGlyphs">147.248</text>
<text x="87.50" y="11.40" font-size="8.6px" fill="#000" textLength="28.10" lengthAdjust="spacingAndGlyphs">147.274</text>
<text x="118.80" y="11.40" font-size="8.6px" fill="#000" textLength="28.10" lengthAdjust="spacingAndGlyphs">147.205</text>
<text x="150.40" y="11.40" font-size="8.6px" fill="#000" textLength="28.10" lengthAdjust="spacingAndGlyphs">147.227</text>
<rect x="0" y="0" width="1536" height="1" fill="#929292"/>
<rect x="0" y="1" width="1536" height="1" fill="#a7a6a5"/>
<rect x="0" y="2" width="1536" height="0.9" fill="#c8c6c4"/>
<rect x="0" y="0" width="1" height="845" fill="#8f8f8f"/>
<rect x="1" y="1" width="1" height="844" fill="#a09f9e"/>
<rect x="2" y="2" width="0.8" height="843" fill="#c9c7c5" fill-opacity="0.7"/>
<path d="M1235.2 1.7 L1244.2 1.7 L1239.6 6.6 Z" fill="#4b4d51"/>
<rect x="1534.4" y="2" width="1.6" height="845" fill="#f3f1ef"/>
<rect x="0" y="843.6" width="1536" height="1.4" fill="#f6f5f4"/>
<rect x="0" y="845" width="1536" height="1" fill="#8b8b8b"/>
<rect x="0" y="846" width="1536" height="1" fill="#e6e5e4"/>
<rect x="1494.05" y="2" width="0.9" height="827.8" fill="#7d7d7d"/>
<rect x="2" y="828.85" width="1493" height="0.9" fill="#7d7d7d"/>
<rect x="1494.5" y="6.05" width="1.3" height="0.9" fill="#6a6a6a"/>
<text x="1498.50" y="9.65" font-size="8.6px" fill="#000" textLength="28.10" lengthAdjust="spacingAndGlyphs">148.530</text>
<rect x="1494.5" y="34.85" width="1.3" height="0.9" fill="#6a6a6a"/>
<text x="1498.50" y="38.45" font-size="8.6px" fill="#000" textLength="28.10" lengthAdjust="spacingAndGlyphs">148.460</text>
<rect x="1494.5" y="63.65" width="1.3" height="0.9" fill="#6a6a6a"/>
<text x="1498.50" y="67.25" font-size="8.6px" fill="#000" textLength="28.10" lengthAdjust="spacingAndGlyphs">148.390</text>
<rect x="1494.5" y="92.45" width="1.3" height="0.9" fill="#6a6a6a"/>
<text x="1498.50" y="96.05" font-size="8.6px" fill="#000" textLength="28.10" lengthAdjust="spacingAndGlyphs">148.320</text>
<rect x="1494.5" y="121.25" width="1.3" height="0.9" fill="#6a6a6a"/>
<text x="1498.50" y="124.85" font-size="8.6px" fill="#000" textLength="28.10" lengthAdjust="spacingAndGlyphs">148.250</text>
<rect x="1494.5" y="150.05" width="1.3" height="0.9" fill="#6a6a6a"/>
<text x="1498.50" y="153.65" font-size="8.6px" fill="#000" textLength="28.10" lengthAdjust="spacingAndGlyphs">148.180</text>
<rect x="1494.5" y="178.85" width="1.3" height="0.9" fill="#6a6a6a"/>
<text x="1498.50" y="182.45" font-size="8.6px" fill="#000" textLength="28.10" lengthAdjust="spacingAndGlyphs">148.110</text>
<rect x="1494.5" y="207.65" width="1.3" height="0.9" fill="#6a6a6a"/>
<text x="1498.50" y="211.25" font-size="8.6px" fill="#000" textLength="28.10" lengthAdjust="spacingAndGlyphs">148.040</text>
<rect x="1494.5" y="236.45" width="1.3" height="0.9" fill="#6a6a6a"/>
<text x="1498.50" y="240.05" font-size="8.6px" fill="#000" textLength="28.10" lengthAdjust="spacingAndGlyphs">147.970</text>
<rect x="1494.5" y="265.25" width="1.3" height="0.9" fill="#6a6a6a"/>
<text x="1498.50" y="268.85" font-size="8.6px" fill="#000" textLength="28.10" lengthAdjust="spacingAndGlyphs">147.900</text>
<rect x="1494.5" y="294.05" width="1.3" height="0.9" fill="#6a6a6a"/>
<text x="1498.50" y="297.65" font-size="8.6px" fill="#000" textLength="28.10" lengthAdjust="spacingAndGlyphs">147.830</text>
<rect x="1494.5" y="322.85" width="1.3" height="0.9" fill="#6a6a6a"/>
<text x="1498.50" y="326.45" font-size="8.6px" fill="#000" textLength="28.10" lengthAdjust="spacingAndGlyphs">147.760</text>
<rect x="1494.5" y="351.65" width="1.3" height="0.9" fill="#6a6a6a"/>
<text x="1498.50" y="355.25" font-size="8.6px" fill="#000" textLength="28.10" lengthAdjust="spacingAndGlyphs">147.690</text>
<rect x="1494.5" y="380.45" width="1.3" height="0.9" fill="#6a6a6a"/>
<text x="1498.50" y="384.05" font-size="8.6px" fill="#000" textLength="28.10" lengthAdjust="spacingAndGlyphs">147.620</text>
<rect x="1494.5" y="409.25" width="1.3" height="0.9" fill="#6a6a6a"/>
<text x="1498.50" y="412.85" font-size="8.6px" fill="#000" textLength="28.10" lengthAdjust="spacingAndGlyphs">147.550</text>
<rect x="1494.5" y="438.05" width="1.3" height="0.9" fill="#6a6a6a"/>
<text x="1498.50" y="441.65" font-size="8.6px" fill="#000" textLength="28.10" lengthAdjust="spacingAndGlyphs">147.480</text>
<rect x="1494.5" y="466.85" width="1.3" height="0.9" fill="#6a6a6a"/>
<text x="1498.50" y="470.45" font-size="8.6px" fill="#000" textLength="28.10" lengthAdjust="spacingAndGlyphs">147.410</text>
<rect x="1494.5" y="495.65" width="1.3" height="0.9" fill="#6a6a6a"/>
<text x="1498.50" y="499.25" font-size="8.6px" fill="#000" textLength="28.10" lengthAdjust="spacingAndGlyphs">147.340</text>
<rect x="1494.5" y="524.45" width="1.3" height="0.9" fill="#6a6a6a"/>
<text x="1498.50" y="528.05" font-size="8.6px" fill="#000" textLength="28.10" lengthAdjust="spacingAndGlyphs">147.270</text>
<rect x="1494.5" y="553.25" width="1.3" height="0.9" fill="#6a6a6a"/>
<text x="1498.50" y="556.85" font-size="8.6px" fill="#000" textLength="28.10" lengthAdjust="spacingAndGlyphs">147.200</text>
<rect x="1494.5" y="582.05" width="1.3" height="0.9" fill="#6a6a6a"/>
<text x="1498.50" y="585.65" font-size="8.6px" fill="#000" textLength="28.10" lengthAdjust="spacingAndGlyphs">147.130</text>
<rect x="1494.5" y="610.85" width="1.3" height="0.9" fill="#6a6a6a"/>
<text x="1498.50" y="614.45" font-size="8.6px" fill="#000" textLength="28.10" lengthAdjust="spacingAndGlyphs">147.060</text>
<rect x="1494.5" y="639.65" width="1.3" height="0.9" fill="#6a6a6a"/>
<text x="1498.50" y="643.25" font-size="8.6px" fill="#000" textLength="28.10" lengthAdjust="spacingAndGlyphs">146.990</text>
<rect x="1494.5" y="668.45" width="1.3" height="0.9" fill="#6a6a6a"/>
<text x="1498.50" y="672.05" font-size="8.6px" fill="#000" textLength="28.10" lengthAdjust="spacingAndGlyphs">146.920</text>
<rect x="1494.5" y="697.25" width="1.3" height="0.9" fill="#6a6a6a"/>
<text x="1498.50" y="700.85" font-size="8.6px" fill="#000" textLength="28.10" lengthAdjust="spacingAndGlyphs">146.850</text>
<rect x="1494.5" y="726.05" width="1.3" height="0.9" fill="#6a6a6a"/>
<text x="1498.50" y="729.65" font-size="8.6px" fill="#000" textLength="28.10" lengthAdjust="spacingAndGlyphs">146.780</text>
<rect x="1494.5" y="754.85" width="1.3" height="0.9" fill="#6a6a6a"/>
<text x="1498.50" y="758.45" font-size="8.6px" fill="#000" textLength="28.10" lengthAdjust="spacingAndGlyphs">146.710</text>
<rect x="1494.5" y="783.65" width="1.3" height="0.9" fill="#6a6a6a"/>
<text x="1498.50" y="787.25" font-size="8.6px" fill="#000" textLength="28.10" lengthAdjust="spacingAndGlyphs">146.640</text>
<rect x="1494.5" y="812.45" width="1.3" height="0.9" fill="#6a6a6a"/>
<text x="1498.50" y="816.05" font-size="8.6px" fill="#000" textLength="28.10" lengthAdjust="spacingAndGlyphs">146.570</text>
<rect x="1495" y="537.8" width="35" height="9.8" fill="#000"/>
<text x="1498.50" y="545.75" font-size="8.6px" fill="#fff" textLength="28.10" lengthAdjust="spacingAndGlyphs">147.227</text>
<rect x="2.01" y="829" width="0.9" height="2.2" fill="#6a6a6a"/>
<text x="1.96" y="839.40" font-size="8.6px" fill="#000" textLength="45.65" lengthAdjust="spacingAndGlyphs">30 Sep 2025</text>
<rect x="57.90" y="829" width="0.9" height="2.2" fill="#6a6a6a"/>
<text x="57.85" y="839.40" font-size="8.6px" fill="#000" textLength="47.89" lengthAdjust="spacingAndGlyphs">30 Sep 10:00</text>
<rect x="113.79" y="829" width="0.9" height="2.2" fill="#6a6a6a"/>
<text x="113.74" y="839.40" font-size="8.6px" fill="#000" textLength="47.89" lengthAdjust="spacingAndGlyphs">30 Sep 12:00</text>
<rect x="169.68" y="829" width="0.9" height="2.2" fill="#6a6a6a"/>
<text x="169.63" y="839.40" font-size="8.6px" fill="#000" textLength="47.89" lengthAdjust="spacingAndGlyphs">30 Sep 14:00</text>
<rect x="225.57" y="829" width="0.9" height="2.2" fill="#6a6a6a"/>
<text x="225.52" y="839.40" font-size="8.6px" fill="#000" textLength="47.89" lengthAdjust="spacingAndGlyphs">30 Sep 16:00</text>
<rect x="281.45" y="829" width="0.9" height="2.2" fill="#6a6a6a"/>
<text x="281.40" y="839.40" font-size="8.6px" fill="#000" textLength="47.89" lengthAdjust="spacingAndGlyphs">30 Sep 18:00</text>
<rect x="337.34" y="829" width="0.9" height="2.2" fill="#6a6a6a"/>
<text x="337.29" y="839.40" font-size="8.6px" fill="#000" textLength="47.89" lengthAdjust="spacingAndGlyphs">30 Sep 20:00</text>
<rect x="393.23" y="829" width="0.9" height="2.2" fill="#6a6a6a"/>
<text x="393.18" y="839.40" font-size="8.6px" fill="#000" textLength="47.89" lengthAdjust="spacingAndGlyphs">30 Sep 22:00</text>
<rect x="449.12" y="829" width="0.9" height="2.2" fill="#6a6a6a"/>
<text x="449.07" y="839.40" font-size="8.6px" fill="#000" textLength="41.62" lengthAdjust="spacingAndGlyphs">1 Oct 00:00</text>
<rect x="505.01" y="829" width="0.9" height="2.2" fill="#6a6a6a"/>
<text x="504.96" y="839.40" font-size="8.6px" fill="#000" textLength="41.62" lengthAdjust="spacingAndGlyphs">1 Oct 02:00</text>
<rect x="560.89" y="829" width="0.9" height="2.2" fill="#6a6a6a"/>
<text x="560.84" y="839.40" font-size="8.6px" fill="#000" textLength="41.62" lengthAdjust="spacingAndGlyphs">1 Oct 04:00</text>
<rect x="616.78" y="829" width="0.9" height="2.2" fill="#6a6a6a"/>
<text x="616.73" y="839.40" font-size="8.6px" fill="#000" textLength="41.62" lengthAdjust="spacingAndGlyphs">1 Oct 06:00</text>
<rect x="672.67" y="829" width="0.9" height="2.2" fill="#6a6a6a"/>
<text x="672.62" y="839.40" font-size="8.6px" fill="#000" textLength="41.62" lengthAdjust="spacingAndGlyphs">1 Oct 08:00</text>
<rect x="728.56" y="829" width="0.9" height="2.2" fill="#6a6a6a"/>
<text x="728.51" y="839.40" font-size="8.6px" fill="#000" textLength="41.62" lengthAdjust="spacingAndGlyphs">1 Oct 10:00</text>
<rect x="784.45" y="829" width="0.9" height="2.2" fill="#6a6a6a"/>
<text x="784.40" y="839.40" font-size="8.6px" fill="#000" textLength="41.62" lengthAdjust="spacingAndGlyphs">1 Oct 12:00</text>
<rect x="840.33" y="829" width="0.9" height="2.2" fill="#6a6a6a"/>
<text x="840.28" y="839.40" font-size="8.6px" fill="#000" textLength="41.62" lengthAdjust="spacingAndGlyphs">1 Oct 14:00</text>
<rect x="896.22" y="829" width="0.9" height="2.2" fill="#6a6a6a"/>
<text x="896.17" y="839.40" font-size="8.6px" fill="#000" textLength="41.62" lengthAdjust="spacingAndGlyphs">1 Oct 16:00</text>
<rect x="952.11" y="829" width="0.9" height="2.2" fill="#6a6a6a"/>
<text x="952.06" y="839.40" font-size="8.6px" fill="#000" textLength="41.62" lengthAdjust="spacingAndGlyphs">1 Oct 18:00</text>
<rect x="1008.00" y="829" width="0.9" height="2.2" fill="#6a6a6a"/>
<text x="1007.95" y="839.40" font-size="8.6px" fill="#000" textLength="41.62" lengthAdjust="spacingAndGlyphs">1 Oct 20:00</text>
<rect x="1063.89" y="829" width="0.9" height="2.2" fill="#6a6a6a"/>
<text x="1063.84" y="839.40" font-size="8.6px" fill="#000" textLength="41.62" lengthAdjust="spacingAndGlyphs">1 Oct 22:00</text>
<rect x="1119.77" y="829" width="0.9" height="2.2" fill="#6a6a6a"/>
<text x="1119.72" y="839.40" font-size="8.6px" fill="#000" textLength="41.62" lengthAdjust="spacingAndGlyphs">2 Oct 00:00</text>
<rect x="1175.66" y="829" width="0.9" height="2.2" fill="#6a6a6a"/>
<text x="1175.61" y="839.40" font-size="8.6px" fill="#000" textLength="41.62" lengthAdjust="spacingAndGlyphs">2 Oct 02:00</text>
</svg></body></html>
